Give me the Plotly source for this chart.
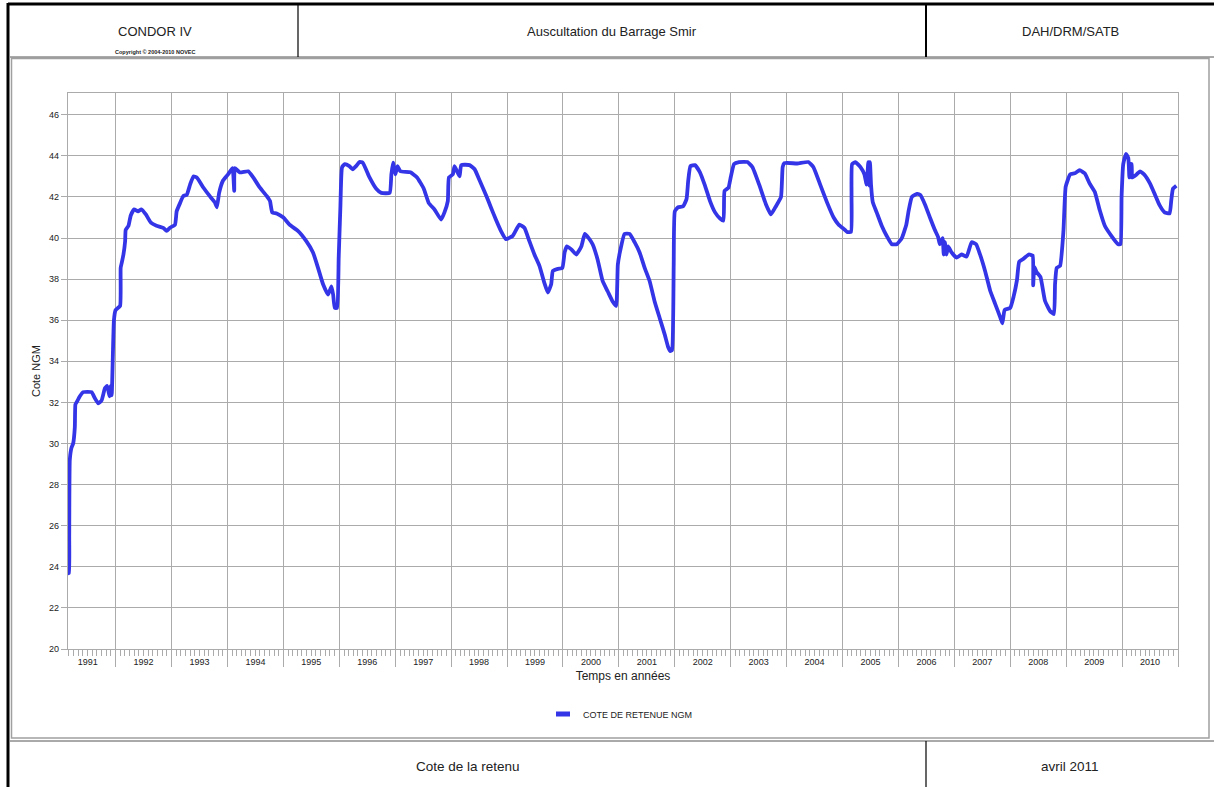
import pandas as pd
import plotly.graph_objects as go

# Reservoir level (Cote de retenue, m NGM) — time in decimal years
years = [
    1991.150, 1991.153, 1991.166, 1991.170, 1991.180, 1991.21, 1991.24, 1991.27, 1991.28, 1991.30,
    1991.36, 1991.42, 1991.57, 1991.63, 1991.69, 1991.75, 1991.81, 1991.85, 1991.89, 1991.91,
    1991.93, 1991.95, 1991.97, 1992.00, 1992.08, 1992.09, 1992.11, 1992.14, 1992.17, 1992.18,
    1992.23, 1992.27, 1992.33, 1992.40, 1992.46, 1992.54, 1992.63, 1992.73, 1992.85, 1992.91,
    1992.97, 1993.06, 1993.09, 1993.15, 1993.21, 1993.27, 1993.33, 1993.39, 1993.45, 1993.57,
    1993.68, 1993.77, 1993.81, 1993.85, 1993.92, 1994.01, 1994.09, 1994.12, 1994.13, 1994.22,
    1994.37, 1994.46, 1994.58, 1994.70, 1994.76, 1994.80, 1994.88, 1995.00, 1995.11, 1995.26,
    1995.41, 1995.53, 1995.62, 1995.71, 1995.80, 1995.86, 1995.89, 1995.92, 1995.96, 1995.99,
    1996.02, 1996.05, 1996.10, 1996.18, 1996.24, 1996.30, 1996.36, 1996.42, 1996.54, 1996.66,
    1996.75, 1996.90, 1996.93, 1996.96, 1997.00, 1997.04, 1997.09, 1997.27, 1997.39, 1997.51,
    1997.60, 1997.70, 1997.82, 1997.88, 1997.94, 1997.96, 1998.03, 1998.06, 1998.15, 1998.18,
    1998.33, 1998.42, 1998.51, 1998.63, 1998.71, 1998.80, 1998.89, 1998.98, 1999.10, 1999.22,
    1999.31, 1999.40, 1999.49, 1999.58, 1999.67, 1999.73, 1999.79, 1999.82, 1999.91, 1999.99,
    2000.03, 2000.07, 2000.15, 2000.24, 2000.33, 2000.39, 2000.46, 2000.53, 2000.62, 2000.71,
    2000.80, 2000.89, 2000.95, 2000.98, 2001.02, 2001.10, 2001.19, 2001.28, 2001.37, 2001.46,
    2001.55, 2001.64, 2001.73, 2001.82, 2001.88, 2001.92, 2001.95, 2001.98, 2002.00, 2002.06,
    2002.15, 2002.21, 2002.24, 2002.28, 2002.36, 2002.45, 2002.54, 2002.63, 2002.72, 2002.81,
    2002.87, 2002.89, 2002.96, 2003.00, 2003.06, 2003.15, 2003.30, 2003.39, 2003.51, 2003.63,
    2003.72, 2003.81, 2003.90, 2003.93, 2003.96, 2004.19, 2004.39, 2004.48, 2004.60, 2004.72,
    2004.84, 2004.93, 2005.02, 2005.08, 2005.15, 2005.16, 2005.17, 2005.23, 2005.32, 2005.39,
    2005.43, 2005.46, 2005.48, 2005.49, 2005.51, 2005.54, 2005.61, 2005.70, 2005.79, 2005.88,
    2005.97, 2006.06, 2006.14, 2006.18, 2006.24, 2006.33, 2006.39, 2006.48, 2006.57, 2006.65,
    2006.71, 2006.74, 2006.79, 2006.81, 2006.83, 2006.86, 2006.89, 2006.95, 2007.04, 2007.13,
    2007.22, 2007.31, 2007.39, 2007.46, 2007.55, 2007.64, 2007.73, 2007.82, 2007.86, 2007.90,
    2008.00, 2008.06, 2008.12, 2008.16, 2008.24, 2008.33, 2008.40, 2008.41, 2008.43, 2008.47,
    2008.54, 2008.62, 2008.71, 2008.78, 2008.80, 2008.83, 2008.89, 2008.95, 2008.99, 2009.07,
    2009.15, 2009.24, 2009.33, 2009.42, 2009.51, 2009.60, 2009.69, 2009.81, 2009.93, 2009.97,
    2009.99, 2010.02, 2010.07, 2010.11, 2010.13, 2010.15, 2010.17, 2010.18, 2010.26, 2010.32,
    2010.41, 2010.50, 2010.59, 2010.67, 2010.76, 2010.85, 2010.88, 2010.91, 2010.97,
]
levels = [
    25.3, 23.7, 23.7, 25.5, 29.2, 29.8, 30.0, 30.8, 31.9, 32.0,
    32.3, 32.5, 32.5, 32.2, 31.95, 32.1, 32.7, 32.8, 32.3, 32.8,
    32.35, 34.2, 36.0, 36.5, 36.7, 38.55, 38.8, 39.2, 39.85, 40.4,
    40.6, 41.1, 41.4, 41.3, 41.4, 41.15, 40.75, 40.6, 40.5, 40.35,
    40.5, 40.65, 41.3, 41.7, 42.05, 42.1, 42.6, 43.0, 42.95, 42.45,
    42.05, 41.75, 41.5, 42.2, 42.8, 43.1, 43.4, 42.3, 43.4, 43.2,
    43.25, 42.95, 42.45, 42.05, 41.8, 41.25, 41.2, 41.0, 40.65, 40.35,
    39.85, 39.3, 38.55, 37.75, 37.25, 37.65, 37.25, 36.6, 36.6, 39.05,
    41.5, 43.45, 43.6, 43.5, 43.35, 43.5, 43.7, 43.67, 42.95, 42.4,
    42.2, 42.2, 43.1, 43.67, 43.1, 43.5, 43.25, 43.2, 42.95, 42.4,
    41.7, 41.4, 40.9, 41.25, 41.8, 42.95, 43.1, 43.5, 43.0, 43.55,
    43.55, 43.35, 42.8, 42.05, 41.5, 40.9, 40.35, 39.95, 40.1, 40.65,
    40.5, 39.85, 39.2, 38.65, 37.8, 37.35, 37.75, 38.4, 38.5, 38.55,
    39.3, 39.6, 39.45, 39.2, 39.6, 40.2, 40.0, 39.7, 38.95, 37.9,
    37.4, 36.9, 36.7, 38.7, 39.35, 40.2, 40.2, 39.8, 39.3, 38.55,
    37.9, 36.9, 36.1, 35.3, 34.7, 34.5, 34.55, 38.7, 41.3, 41.5,
    41.55, 41.9, 42.8, 43.5, 43.55, 43.2, 42.55, 41.8, 41.25, 40.95,
    40.85, 42.3, 42.45, 42.95, 43.6, 43.7, 43.7, 43.45, 42.6, 41.65,
    41.15, 41.55, 42.0, 43.45, 43.65, 43.63, 43.7, 43.45, 42.6, 41.75,
    41.0, 40.65, 40.45, 40.3, 40.3, 42.0, 43.6, 43.7, 43.45, 43.1,
    42.6, 43.7, 42.55, 43.7, 42.55, 41.75, 41.25, 40.6, 40.1, 39.7,
    39.7, 40.0, 40.65, 41.3, 42.0, 42.15, 42.1, 41.6, 40.95, 40.4,
    40.05, 39.7, 40.0, 39.2, 39.8, 39.2, 39.6, 39.3, 39.05, 39.2,
    39.1, 39.8, 39.7, 39.2, 38.4, 37.45, 36.8, 36.15, 35.85, 36.5,
    36.6, 37.15, 37.95, 38.85, 39.0, 39.2, 39.15, 37.7, 38.6, 38.35,
    38.1, 36.95, 36.45, 36.3, 37.75, 38.55, 38.65, 40.35, 42.5, 43.1,
    43.15, 43.3, 43.15, 42.65, 42.25, 41.35, 40.6, 40.1, 39.7, 39.7,
    42.0, 43.6, 44.1, 43.9, 42.95, 43.6, 43.6, 42.95, 43.1, 43.25,
    43.05, 42.65, 42.1, 41.6, 41.25, 41.2, 41.85, 42.4, 42.55,
]
y_ticks = list(range(20, 47, 2))
series_name = "COTE DE RETENUE NGM"


def to_date(y):
    start = pd.Timestamp(year=int(y), month=1, day=1)
    end = pd.Timestamp(year=int(y) + 1, month=1, day=1)
    return start + (end - start) * (y - int(y))


dates = [to_date(y) for y in years]

W, H = 1214, 787
L, R, T, B = 68, 1178, 93, 649


def px(x):
    return (x - L) / (R - L)


def py(y):
    return (B - y) / (B - T)


GRID = "#ababab"
BLUE = "#3535e8"
FONT = "Liberation Sans, Arial, sans-serif"

fig = go.Figure()
fig.add_trace(go.Scatter(
    x=dates, y=levels, mode="lines", name=series_name,
    line=dict(color=BLUE, width=3.8, shape="spline", smoothing=0.4),
    legendgroup="cote", showlegend=False,
))
# legend key drawn as a short thick bar
fig.add_trace(go.Scatter(
    x=[None], y=[None], mode="markers", name=series_name, legendgroup="cote",
    marker=dict(symbol="line-ew", size=10, color=BLUE, line=dict(color=BLUE, width=5)),
))

shapes = []


def line(x0, y0, x1, y1, color, width):
    shapes.append(dict(type="line", xref="paper", yref="paper",
                       x0=px(x0), y0=py(y0), x1=px(x1), y1=py(y1),
                       line=dict(color=color, width=width), layer="above"))


# chart panel frame
shapes.append(dict(type="rect", xref="paper", yref="paper",
                   x0=px(11.5), y0=py(738), x1=px(1209), y1=py(58.5),
                   line=dict(color="#a0a0a0", width=1.5), layer="below"))
# outer border and header / footer cells
line(8, 4, 1214, 4, "#000000", 3)
line(8, 3, 8, 787, "#000000", 3)
line(10, 57, 1214, 57, "#555555", 1)
line(298, 5, 298, 57, "#000000", 1.2)
line(926, 5, 926, 57, "#000000", 2)
line(10, 741, 1214, 741, "#555555", 1)
line(926, 741, 926, 787, "#000000", 1.2)

annotations = [
    dict(text="CONDOR IV", x=px(155), y=py(31), size=13),
    dict(text="<b>Copyright © 2004-2010 NOVEC</b>", x=px(155), y=py(52.5), size=5.5),
    dict(text="Auscultation du Barrage Smir", x=px(612), y=py(31), size=13),
    dict(text="DAH/DRM/SATB", x=px(1070), y=py(31), size=13),
    dict(text="Cote de la retenu", x=px(468), y=py(766), size=13.5),
    dict(text="avril 2011", x=px(1070), y=py(766), size=13.5),
]
ann_objs = [dict(text=a["text"], x=a["x"], y=a["y"], xref="paper", yref="paper",
                 showarrow=False, xanchor="center", yanchor="middle",
                 font=dict(family=FONT, size=a["size"], color="#222222"))
            for a in annotations]

fig.update_layout(
    width=W, height=H,
    margin=dict(l=L, r=W - R, t=T, b=H - B),
    paper_bgcolor="white", plot_bgcolor="white",
    font=dict(family=FONT, color="#222222"),
    shapes=shapes,
    annotations=ann_objs,
    showlegend=True,
    legend=dict(orientation="h", x=px(543), xanchor="left", y=py(714), yanchor="middle",
                font=dict(size=9, color="#222222"), itemwidth=30),
)

fig.update_xaxes(
    type="date",
    range=["1991-02-24", "2011-01-01"],
    tick0="1991-01-01", dtick="M12", tickformat="%Y", ticklabelmode="period",
    ticks="outside", ticklen=17, tickcolor=GRID, tickwidth=1.3,
    ticklabelstandoff=-13,
    tickfont=dict(size=9, color="#222222"),
    showgrid=True, gridcolor=GRID, gridwidth=1.3,
    showline=True, linecolor=GRID, linewidth=1.3, mirror=True,
    minor=dict(dtick="M1", ticks="outside", ticklen=6, tickcolor=GRID, tickwidth=1, showgrid=False),
    title=dict(text="Temps en années", font=dict(size=12, color="#222222"), standoff=5),
    zeroline=False,
)
fig.update_yaxes(
    range=[20, 47.06],
    tickvals=y_ticks,
    ticks="outside", ticklen=6, tickcolor=GRID, tickwidth=1.3,
    tickfont=dict(size=9, color="#222222"),
    showgrid=True, gridcolor=GRID, gridwidth=1.3,
    showline=True, linecolor=GRID, linewidth=1.3, mirror=True,
    title=dict(text="Cote NGM", font=dict(size=11, color="#222222"), standoff=6),
    zeroline=False,
)

fig.write_html("out.html")
